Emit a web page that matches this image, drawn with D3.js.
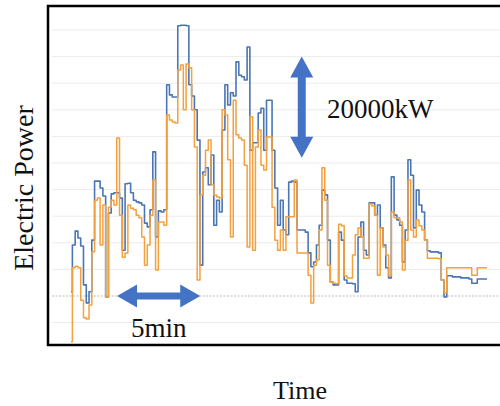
<!DOCTYPE html>
<html>
<head>
<meta charset="utf-8">
<script src="https://cdn.jsdelivr.net/npm/d3@7"></script>
<style>
  body { margin: 0; background: #fff; }
  text { font-family: "Liberation Serif", "Times New Roman", serif; fill: #111; }
</style>
</head>
<body>
<svg id="svg" width="500" height="406"></svg>
<script>
// one sample every 10 s, 25 min in all
const stepSec = 10;

// electric power, kW (blue series)
const blueKw = [
  800, 9600, 12200, 10900, 9400, 2100, -1300, 800, 10500, 21600,
  21600, 20300, 18800, -200, 15600, 19200, 19400, 19400, 18400, 8600,
  21100, 21200, 19400, 18000, 17700, 17500, 17100, 13700, 13000, 16200,
  27100, 11100, 16000, 15800, 16200, 39700, 37800, 37400, 37400, 50800,
  50900, 50900, 50800, 39700, 37600, 35000, 29300, 5800, 23300, 24100,
  20900, 26500, 13300, 18000, 15800, 31200, 39700, 35900, 38200, 37600,
  44000, 41500, 41200, 40600, 46800, 27400, 28800, 28800, 34400, 35300,
  27400, 36800, 36800, 27400, 20300, 13300, 18000, 12400, 11500, 21400,
  21600, 21400, 12400, 12400, 12400, 12000, 8100, 5500, 6400, 9600,
  13300, 19900, 19000, 10500, 2600, 2100, 2100, 12000, 10500, 3000,
  2400, 2400, 2300, 800, 11100, 13900, 8600, 7700, 17500, 17500,
  15200, 17100, 12800, 9600, 5300, 3400, 22400, 15200, 14300, 13300,
  6400, 12400, 25600, 22700, 12800, 19900, 17100, 15800, 10500, 8500,
  8300, 8300, 8300, 8100, 3000, -200, 3800, 3800, 3600, 3600,
  3600, 3400, 3400, 3400, 3200, 2400, 2400, 3200, 3200, 3200,
  3200
];

// electric power, kW (orange series)
const orangeKw = [
  -8600, 5300, 5600, 5300, -800, -4100, -4300, -1700, 8300, 18000,
  18400, 9600, 17100, -200, 16700, 18000, 17100, 29700, 15200, 7300,
  8100, 17100, 16500, 16200, 15200, 14700, 11100, 5800, 9600, 15200,
  21800, 4900, 13900, 13900, 13300, 34000, 33100, 32700, 32500, 42500,
  43400, 35000, 43600, 42900, 35000, 28000, 3000, 19000, 22700, 27400,
  29300, 20900, 19000, 18600, 18400, 35000, 34000, 25600, 11100, 36800,
  30300, 29700, 29300, 24600, 9200, 33700, 8600, 28000, 31200, 24600,
  23700, 29900, 29900, 16700, 10500, 8600, 12400, 8600, 14900, 14900,
  14900, 21800, 8100, 8100, 8100, 8100, 3900, -1300, 5800, 6800,
  12400, 24100, 18000, 5800, 2600, 2400, 2300, 13500, 13200, 3800,
  3400, 3400, 7700, 11500, 12800, 11100, 7100, 7100, 17300, 16900,
  15200, 3900, 12800, 9200, 7700, 3800, 15800, 14700, 14700, 13900,
  4900, 10500, 21800, 12400, 11100, 14300, 13200, 12400, 10500, 7100,
  7100, 7100, 7100, 7000, 3000, 600, 5300, 5300, 5300, 5300,
  5300, 5300, 5300, 5300, 5300, 3900, 3900, 5300, 5300, 5300,
  5300
];

const gridKw = [-5000, 0, 5000, 10000, 15000, 20000, 25000, 30000, 35000, 40000, 45000, 50000];

// annotation arrows: 5 min span at zero, 20000 kW span
const spanStartSec = 166;
const spanSec = 300;
const kwArrowSec = 832;
const kwArrowTop = 45000;
const kwArrowBottom = 26000;

const svg = d3.select('#svg');

const x = d3.scaleLinear().domain([0, 1500]).range([71, 487]);
const y = d3.scaleLinear().domain([0, 50000]).range([296, 30]);

// grid
svg.append('g').selectAll('line').data(gridKw).join('line')
  .attr('x1', 52).attr('x2', 500)
  .attr('y1', (d) => y(d)).attr('y2', (d) => y(d))
  .attr('stroke', (d) => d === 0 ? '#bdbdbd' : '#ececec')
  .attr('stroke-width', (d) => d === 0 ? 1.2 : 1)
  .attr('stroke-dasharray', (d) => d === 0 ? '2,1.5' : null);

const line = d3.line()
  .x((d, i) => x(i * stepSec))
  .y((d) => y(d))
  .curve(d3.curveStep);

svg.append('path').datum(blueKw)
  .attr('d', line).attr('fill', 'none')
  .attr('stroke', '#4a76b3').attr('stroke-width', 1.6)
  .attr('stroke-linejoin', 'round');

svg.append('path').datum(orangeKw)
  .attr('d', line).attr('fill', 'none')
  .attr('stroke', '#f3a03e').attr('stroke-width', 1.5)
  .attr('stroke-linejoin', 'round');

// frame
svg.append('rect')
  .attr('x', 48).attr('y', 6).attr('width', 470).attr('height', 339)
  .attr('fill', 'none').attr('stroke', '#000').attr('stroke-width', 2.5);

const doubleArrow = (x1, y1, x2, y2, hl, hw, sw) => {
  const L = Math.hypot(x2 - x1, y2 - y1);
  const ux = (x2 - x1) / L, uy = (y2 - y1) / L;
  const nx = -uy, ny = ux;
  const pts = [[0, 0], [hl, hw], [hl, sw], [L - hl, sw], [L - hl, hw], [L, 0],
    [L - hl, -hw], [L - hl, -sw], [hl, -sw], [hl, -hw]];
  return 'M' + pts.map(([a, c]) => (x1 + a * ux + c * nx) + ',' + (y1 + a * uy + c * ny)).join('L') + 'Z';
};

svg.append('path')
  .attr('d', doubleArrow(x(spanStartSec), y(0), x(spanStartSec + spanSec), y(0), 20, 11.5, 3.6))
  .attr('fill', '#4472c4');

svg.append('path')
  .attr('d', doubleArrow(x(kwArrowSec), y(kwArrowTop), x(kwArrowSec), y(kwArrowBottom), 21, 11.5, 4))
  .attr('fill', '#4472c4');

svg.append('text').attr('x', 327).attr('y', 118)
  .attr('font-size', 27).text('20000kW');

svg.append('text').attr('x', (x(spanStartSec) + x(spanStartSec + spanSec)) / 2).attr('y', 337)
  .attr('text-anchor', 'middle').attr('font-size', 27).text('5min');

svg.append('text').attr('x', 300).attr('y', 399)
  .attr('text-anchor', 'middle').attr('font-size', 26).text('Time');

svg.append('text').attr('transform', 'translate(33,188) rotate(-90)')
  .attr('text-anchor', 'middle').attr('font-size', 28).text('Electric Power');
</script>
</body>
</html>
